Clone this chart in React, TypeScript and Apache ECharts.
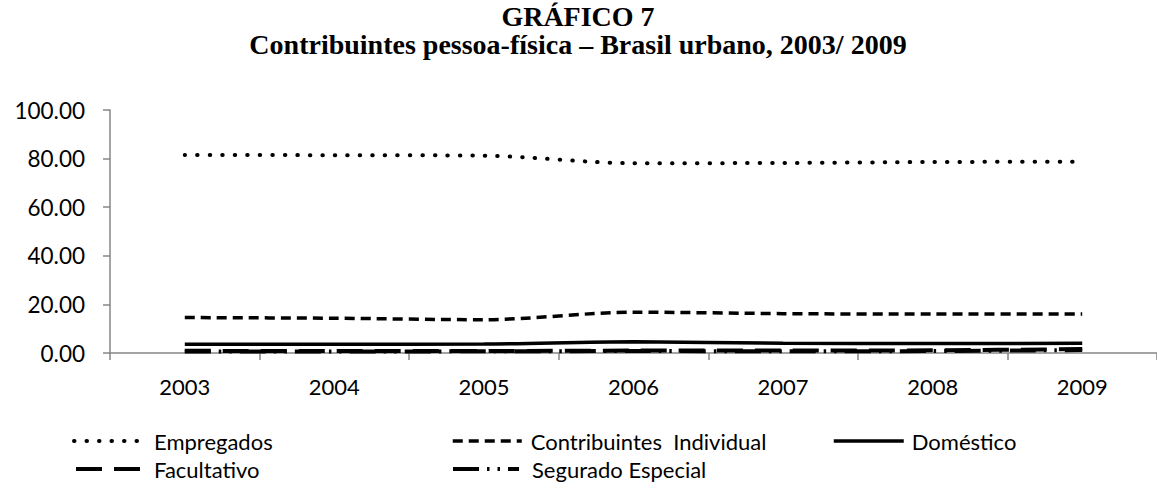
import { useEffect, useRef } from "react";
import * as echarts from "echarts";

const years = ["2003", "2004", "2005", "2006", "2007", "2008", "2009"];
const empregados = [81.5, 81.4, 81.2, 78.1, 78.2, 78.6, 78.7];
const contribIndividual = [14.6, 14.3, 13.7, 16.8, 16.2, 16.0, 16.0];
const domestico = [3.6, 3.6, 3.7, 4.6, 4.0, 3.9, 4.0];
const facultativo = [0.9, 0.8, 0.8, 1.0, 1.0, 1.1, 1.6];
const seguradoEspecial = [0.6, 0.6, 0.7, 0.8, 0.7, 0.8, 1.2];

const titleLine1 = "GRÁFICO 7";
const titleLine2 = "Contribuintes pessoa-física – Brasil urbano, 2003/ 2009";

const FONT = "Lato";
const AXIS_GRAY = "#868686";

type Ser = { name: string; data: number[]; dash: number[] | "solid"; width: number; cap: string };

const seriesDefs: Ser[] = [
  { name: "Empregados", data: empregados, dash: [0.5, 12], width: 4, cap: "round" },
  { name: "Contribuintes  Individual", data: contribIndividual, dash: [10, 6], width: 3.5, cap: "butt" },
  { name: "Doméstico", data: domestico, dash: "solid", width: 3.5, cap: "butt" },
  { name: "Facultativo", data: facultativo, dash: [26, 12], width: 4, cap: "butt" },
  { name: "Segurado Especial", data: seguradoEspecial, dash: [26, 8, 2.5, 8, 2.5, 8], width: 4, cap: "butt" },
];

const legendPos = [
  { left: 72, top: 430, w: 66, pad: 9 },
  { left: 451, top: 430, w: 69, pad: 4 },
  { left: 832, top: 430, w: 70, pad: 3 },
  { left: 74, top: 458, w: 70, pad: 3 },
  { left: 451, top: 458, w: 66, pad: 8 },
];

export default function App() {
  const ref = useRef<HTMLDivElement>(null);
  useEffect(() => {
    document.body.style.margin = "0";
    if (!ref.current) return;
    const chart = echarts.init(ref.current, null, { renderer: "svg" });
    chart.setOption({
      animation: false,
      backgroundColor: "#ffffff",
      graphic: [
        {
          type: "text",
          x: 578,
          y: 16,
          style: {
            text: titleLine1,
            align: "center",
            verticalAlign: "middle",
            fontFamily: "Liberation Serif",
            fontWeight: "bold",
            fontSize: 28,
            fill: "#000",
          },
        },
        {
          type: "text",
          x: 578,
          y: 44,
          style: {
            text: titleLine2,
            align: "center",
            verticalAlign: "middle",
            fontFamily: "Liberation Serif",
            fontWeight: "bold",
            fontSize: 28,
            fill: "#000",
          },
        },
      ],
      grid: { left: 110, right: -1, top: 110, bottom: 135, containLabel: false },
      xAxis: {
        type: "category",
        data: years,
        boundaryGap: true,
        axisLine: { show: true, lineStyle: { color: AXIS_GRAY, width: 1.5 } },
        axisTick: { show: true, alignWithLabel: false, length: 7, lineStyle: { color: AXIS_GRAY, width: 1.5 } },
        axisLabel: { color: "#000", fontFamily: FONT, fontSize: 22, margin: 22 },
        splitLine: { show: false },
      },
      yAxis: {
        type: "value",
        min: 0,
        max: 100,
        interval: 20,
        axisLine: { show: true, lineStyle: { color: AXIS_GRAY, width: 1.5 } },
        axisTick: { show: true, length: 7, lineStyle: { color: AXIS_GRAY, width: 1.5 } },
        axisLabel: {
          color: "#000",
          fontFamily: FONT,
          fontSize: 22.5,
          margin: 25,
          formatter: (v: number) => v.toFixed(2),
        },
        splitLine: { show: false },
      },
      legend: seriesDefs.map((s, i) => ({
        data: [s.name],
        left: legendPos[i].left,
        top: legendPos[i].top,
        itemWidth: legendPos[i].w,
        itemHeight: 14,
        padding: 0,
        selectedMode: false,
        itemStyle: { opacity: 0, borderWidth: 0 },
        lineStyle: { width: s.width, type: s.dash, cap: s.cap, color: "#000", opacity: 1 },
        textStyle: { color: "#000", fontFamily: FONT, fontSize: 22, padding: [0, 0, 0, legendPos[i].pad] },
      })),
      series: seriesDefs.map((s) => ({
        name: s.name,
        type: "line",
        data: s.data,
        smooth: 0.3,
        symbol: "none",
        showSymbol: false,
        color: "#000",
        lineStyle: { color: "#000", width: s.width, type: s.dash, cap: s.cap },
      })),
    });
    return () => chart.dispose();
  }, []);
  return <div ref={ref} style={{ width: 1157, height: 488 }} />;
}
